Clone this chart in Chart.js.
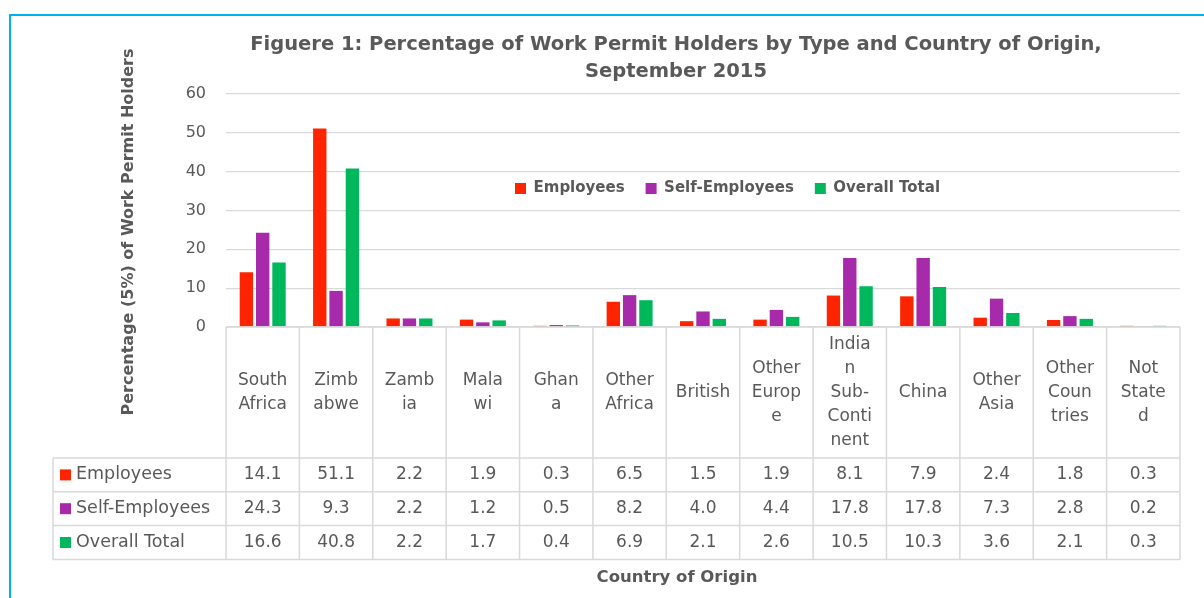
<!DOCTYPE html>
<html><head><meta charset="utf-8">
<script src="https://cdn.jsdelivr.net/npm/chart.js@4/dist/chart.umd.min.js"></script>
<style>
html,body{margin:0;padding:0;background:#fff;overflow:hidden;width:1204px;height:598px;}
#frame{position:absolute;left:9px;top:14px;width:1300px;height:700px;border:2px solid #00B0F0;}
#c{position:absolute;left:0;top:0;}
</style></head><body>
<div id="frame"></div>
<canvas id="c" width="1204" height="598"></canvas>
<script>
const categories = [["South","Africa"],["Zimb","abwe"],["Zamb","ia"],["Mala","wi"],["Ghan","a"],["Other","Africa"],["British"],["Other","Europ","e"],["India","n","Sub-","Conti","nent"],["China"],["Other","Asia"],["Other","Coun","tries"],["Not","State","d"]];
const employees = [14.1,51.1,2.2,1.9,0.3,6.5,1.5,1.9,8.1,7.9,2.4,1.8,0.3];
const selfEmployees = [24.3,9.3,2.2,1.2,0.5,8.2,4.0,4.4,17.8,17.8,7.3,2.8,0.2];
const overallTotal = [16.6,40.8,2.2,1.7,0.4,6.9,2.1,2.6,10.5,10.3,3.6,2.1,0.3];
const seriesNames = ["Employees","Self-Employees","Overall Total"];
const seriesColors = ["#FF2400","#A62AAA","#00B85C"];
const yTicks = [0,10,20,30,40,50,60];
const titleLines = ["Figuere 1: Percentage of Work Permit Holders by Type and Country of Origin,","September 2015"];
const xTitle = "Country of Origin";
const yTitle = "Percentage (5%) of Work Permit Holders";

const FONT = '"DejaVu Sans", sans-serif';
const TEXT = '#595959', GRID = '#D9D9D9';

const layoutFix = {
  id: 'layoutFix',
  afterLayout(chart) {
    const t = chart.titleBlock;
    if (t) { t.left = 148; t.right = 1204; t.width = t.right - t.left; }
    const lg = chart.legend;
    if (lg) {
      lg.left = 494; lg.right = 1180; lg.width = lg.right - lg.left;
      lg.top = 160; lg.bottom = lg.top + 50; lg.height = 50;
    }
  }
};

const tablePlugin = {
  id: 'dataTable',
  afterDraw(chart) {
    const ctx = chart.ctx, xs = chart.scales.x, area = chart.chartArea;
    const n = chart.data.labels.length;
    const colW = (xs.right - xs.left) / n;
    const top = area.bottom, headBottom = 458, rowH = 33.8, tableLeft = 53;
    const ds = chart.data.datasets;
    const bottom = headBottom + ds.length * rowH;
    ctx.save();
    ctx.strokeStyle = GRID; ctx.lineWidth = 1.5;
    ctx.beginPath();
    ctx.moveTo(xs.left, top); ctx.lineTo(xs.right, top);
    for (let r = 0; r <= ds.length; r++) {
      const y = headBottom + r * rowH;
      ctx.moveTo(tableLeft, y); ctx.lineTo(xs.right, y);
    }
    for (let i = 0; i <= n; i++) {
      const bx = i < n ? xs.getPixelForValue(i) - colW / 2 : xs.getPixelForValue(n - 1) + colW / 2;
      ctx.moveTo(bx, top); ctx.lineTo(bx, bottom);
    }
    ctx.moveTo(tableLeft, headBottom); ctx.lineTo(tableLeft, bottom);
    ctx.stroke();

    ctx.fillStyle = TEXT;
    ctx.font = '17px ' + FONT;
    ctx.textAlign = 'center'; ctx.textBaseline = 'middle';
    const hc = (top + headBottom) / 2;
    chart.data.labels.forEach((lab, i) => {
      const lines = Array.isArray(lab) ? lab : [lab];
      const cx = xs.getPixelForValue(i);
      lines.forEach((ln, k) => ctx.fillText(ln, cx, hc + (k - (lines.length - 1) / 2) * 24));
    });
    ds.forEach((d, r) => {
      const cy = headBottom + (r + 0.5) * rowH;
      ctx.fillStyle = d.backgroundColor;
      ctx.fillRect(60, cy - 5.5, 11, 11);
      ctx.fillStyle = TEXT;
      ctx.textAlign = 'left';
      ctx.font = '17.5px ' + FONT;
      ctx.fillText(d.label, 76, cy);
      ctx.textAlign = 'center';
      ctx.font = '17px ' + FONT;
      d.data.forEach((v, i) => ctx.fillText(v.toFixed(1), xs.getPixelForValue(i), cy));
    });

    ctx.font = 'bold 16.5px ' + FONT;
    ctx.fillText(xTitle, 677, 578);
    ctx.font = 'bold 16px ' + FONT;
    ctx.translate(129, 232);
    ctx.rotate(-Math.PI / 2);
    ctx.fillText(yTitle, 0, 0);
    ctx.restore();
  }
};

new Chart(document.getElementById('c'), {
  type: 'bar',
  data: {
    labels: categories,
    datasets: [
      { label: seriesNames[0], data: employees, backgroundColor: seriesColors[0] },
      { label: seriesNames[1], data: selfEmployees, backgroundColor: seriesColors[1] },
      { label: seriesNames[2], data: overallTotal, backgroundColor: seriesColors[2] }
    ]
  },
  options: {
    responsive: false,
    animation: false,
    devicePixelRatio: 1,
    events: [],
    categoryPercentage: 0.667,
    barPercentage: 0.82,
    layout: { padding: { left: 0, right: 24, top: 0, bottom: 6 } },
    plugins: {
      title: {
        display: true, text: titleLines, color: TEXT,
        font: { family: FONT, size: 19.5, weight: 'bold', lineHeight: 1.385 },
        padding: { top: 31.5, bottom: 7.5 }
      },
      legend: {
        position: 'top', align: 'start', maxHeight: 1,
        labels: { boxWidth: 11, boxHeight: 11, padding: 21, color: TEXT, font: { family: FONT, size: 15, weight: 'bold' } }
      },
      tooltip: { enabled: false }
    },
    scales: {
      x: {
        grid: { display: false }, border: { display: false },
        ticks: { display: false },
        afterFit(s) { s.height = 265; }
      },
      y: {
        min: yTicks[0], max: yTicks[yTicks.length - 1],
        grid: { color: GRID, lineWidth: 1.3, drawTicks: false },
        border: { display: false },
        ticks: { stepSize: yTicks[1] - yTicks[0], padding: 20, color: TEXT, font: { family: FONT, size: 16 } },
        afterFit(s) { s.width = 226; }
      }
    }
  },
  plugins: [layoutFix, tablePlugin]
});
</script>
</body></html>
